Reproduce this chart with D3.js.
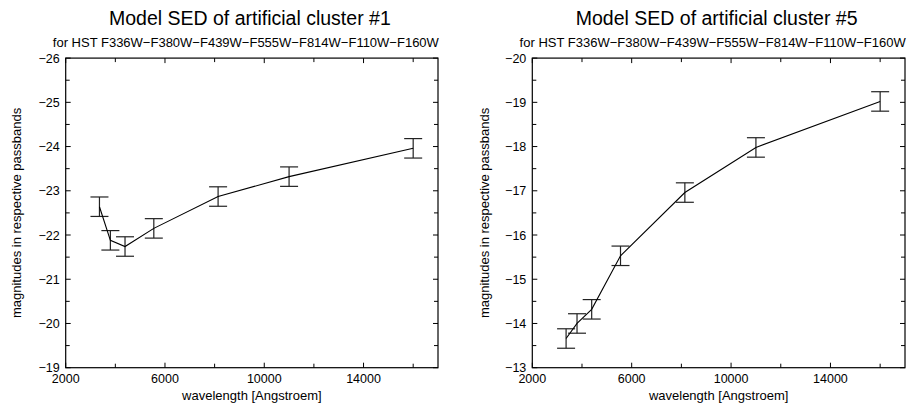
<!DOCTYPE html>
<html><head><meta charset="utf-8">
<script src="https://cdn.jsdelivr.net/npm/d3@7"></script>
<style>body{margin:0;background:#fff}svg{display:block}text{font-family:"Liberation Sans",Arial,sans-serif;fill:#000}</style>
</head><body>
<svg id="c" width="917" height="408"></svg>
<script>
const wavelengths = [3360, 3800, 4390, 5550, 8140, 11000, 16000];
const mags1 = [-22.64, -21.88, -21.74, -22.15, -22.87, -23.32, -23.96];
const errs1 = [0.22, 0.22, 0.22, 0.22, 0.22, 0.22, 0.22];
const mags5 = [-13.66, -14.00, -14.32, -15.53, -16.96, -17.98, -19.02];
const errs5 = [0.22, 0.22, 0.22, 0.22, 0.22, 0.22, 0.22];
const xTicks = [2000, 6000, 10000, 14000];
const xMinor = [4000, 8000, 12000, 16000];
const titles = ["Model SED of artificial cluster #1", "Model SED of artificial cluster #5"];
const subtitle = "for HST F336W\u2212F380W\u2212F439W\u2212F555W\u2212F814W\u2212F110W\u2212F160W";
const xLabel = "wavelength [Angstroem]";
const yLabel = "magnitudes in respective passbands";
const yDomains = [[-19, -26], [-13, -20]];

const svg = d3.select("#c");
const panels = [
  {left: 65.7, right: 438, mags: mags1, errs: errs1, title: titles[0], yd: yDomains[0], ylx: 20.5},
  {left: 532.3, right: 905, mags: mags5, errs: errs5, title: titles[1], yd: yDomains[1], ylx: 488.5}
];
const plotTop = 58.1, plotBottom = 367.7;
const fmt = v => (v < 0 ? "\u2212" : "") + Math.abs(v);

panels.forEach(p => {
  const g = svg.append("g");
  const x = d3.scaleLinear().domain([2000, 17000]).range([p.left, p.right]);
  const y = d3.scaleLinear().domain(p.yd).range([plotBottom, plotTop]);
  const yMaj = d3.range(p.yd[0], p.yd[1] - 0.01, -1);
  const yMin = d3.range(p.yd[0] - 0.5, p.yd[1], -1);

  const tk = g.append("g").attr("stroke", "#000").attr("stroke-width", 1);
  xTicks.concat(xMinor).forEach(v => {
    const L = xTicks.includes(v) ? 5 : 4;
    tk.append("line").attr("x1", x(v)).attr("x2", x(v)).attr("y1", plotBottom).attr("y2", plotBottom - L);
    tk.append("line").attr("x1", x(v)).attr("x2", x(v)).attr("y1", plotTop).attr("y2", plotTop + L);
  });
  yMaj.concat(yMin).forEach(v => {
    const L = yMaj.includes(v) ? 5 : 4;
    tk.append("line").attr("y1", y(v)).attr("y2", y(v)).attr("x1", p.left).attr("x2", p.left + L);
    tk.append("line").attr("y1", y(v)).attr("y2", y(v)).attr("x1", p.right).attr("x2", p.right - L);
  });
  g.append("rect").attr("x", p.left).attr("y", plotTop).attr("width", p.right - p.left).attr("height", plotBottom - plotTop)
    .attr("fill", "none").attr("stroke", "#000").attr("stroke-width", 1.2);

  xTicks.forEach(v => g.append("text").attr("x", x(v)).attr("y", 383).attr("text-anchor", "middle")
    .attr("font-size", 12.5).text(v));
  yMaj.forEach(v => g.append("text").attr("x", p.left - 6).attr("y", y(v) + 4.5).attr("text-anchor", "end")
    .attr("font-size", 12.5).text(fmt(v)));

  g.append("text").attr("x", (p.left + p.right) / 2 - 2).attr("y", 25).attr("text-anchor", "middle")
    .attr("font-size", 19.5).text(p.title);
  g.append("text").attr("x", (p.left + p.right) / 2 - 6).attr("y", 47).attr("text-anchor", "middle")
    .attr("font-size", 13).text(subtitle);
  g.append("text").attr("x", (p.left + p.right) / 2).attr("y", 400).attr("text-anchor", "middle")
    .attr("font-size", 13).text(xLabel);
  g.append("text").attr("transform", `translate(${p.ylx},${(plotTop + plotBottom) / 2}) rotate(-90)`)
    .attr("text-anchor", "middle").attr("font-size", 13).text(yLabel);

  const eb = g.append("g").attr("stroke", "#222").attr("stroke-width", 1.2);
  wavelengths.forEach((w, i) => {
    const cx = x(w), y1 = y(p.mags[i] - p.errs[i]), y2 = y(p.mags[i] + p.errs[i]);
    eb.append("line").attr("x1", cx).attr("x2", cx).attr("y1", y1).attr("y2", y2);
    eb.append("line").attr("x1", cx - 9).attr("x2", cx + 9).attr("y1", y1).attr("y2", y1);
    eb.append("line").attr("x1", cx - 9).attr("x2", cx + 9).attr("y1", y2).attr("y2", y2);
  });
  const line = d3.line().x((d, i) => x(wavelengths[i])).y(d => y(d));
  g.append("path").datum(p.mags).attr("d", line).attr("fill", "none").attr("stroke", "#000").attr("stroke-width", 1.1);
});
</script>
</body></html>
